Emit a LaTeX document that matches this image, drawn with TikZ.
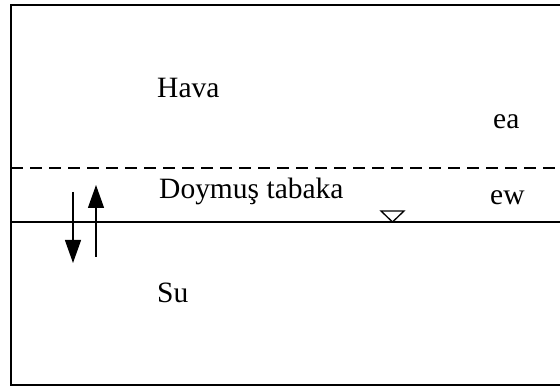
\documentclass[tikz,border=0pt]{standalone}
\usepackage{fontspec}
\setmainfont{Liberation Serif}
\usetikzlibrary{arrows.meta}
\begin{document}
\begin{tikzpicture}[x=1pt,y=-1pt,
  lbl/.style={inner sep=0pt,anchor=base west,font=\fontsize{29.5}{32}\selectfont},
  flux/.style={line width=1.3pt,-{Triangle[length=23pt,width=16pt]}}]
\useasboundingbox (0,0) rectangle (560,387);
% outer frame, open to the right
\draw[line width=1.8pt] (562,5) -- (11,5) -- (11,385) -- (562,385);
% layer boundaries
\coordinate (dl) at (11,168);
\coordinate (dr) at (560,168);
\coordinate (sl) at (11,222);
\coordinate (sr) at (560,222);
\draw[line width=1.3pt,dash pattern=on 12pt off 7pt] (dl) -- (dr);
\draw[line width=1.3pt] (sl) -- (sr);
% water level marker
\coordinate (wl) at (392.5,222);
\draw[line width=1.3pt] (wl) -- (381,211) -- (404,211) -- cycle;
% exchange arrows
\coordinate (a1s) at (73,192);
\coordinate (a1e) at (73,263);
\coordinate (a2s) at (96,257);
\coordinate (a2e) at (96,185);
\draw[flux] (a1s) -- (a1e);
\draw[flux] (a2s) -- (a2e);
% labels
\node[lbl] (hava) at (157,98) {Hava};
\node[lbl] (ea) at (493,129) {ea};
\node[lbl] (doy) at (159,199) {Doymuş tabaka};
\node[lbl] (ew) at (490,205) {ew};
\node[lbl] (su) at (157,303) {Su};
\end{tikzpicture}
\end{document}
